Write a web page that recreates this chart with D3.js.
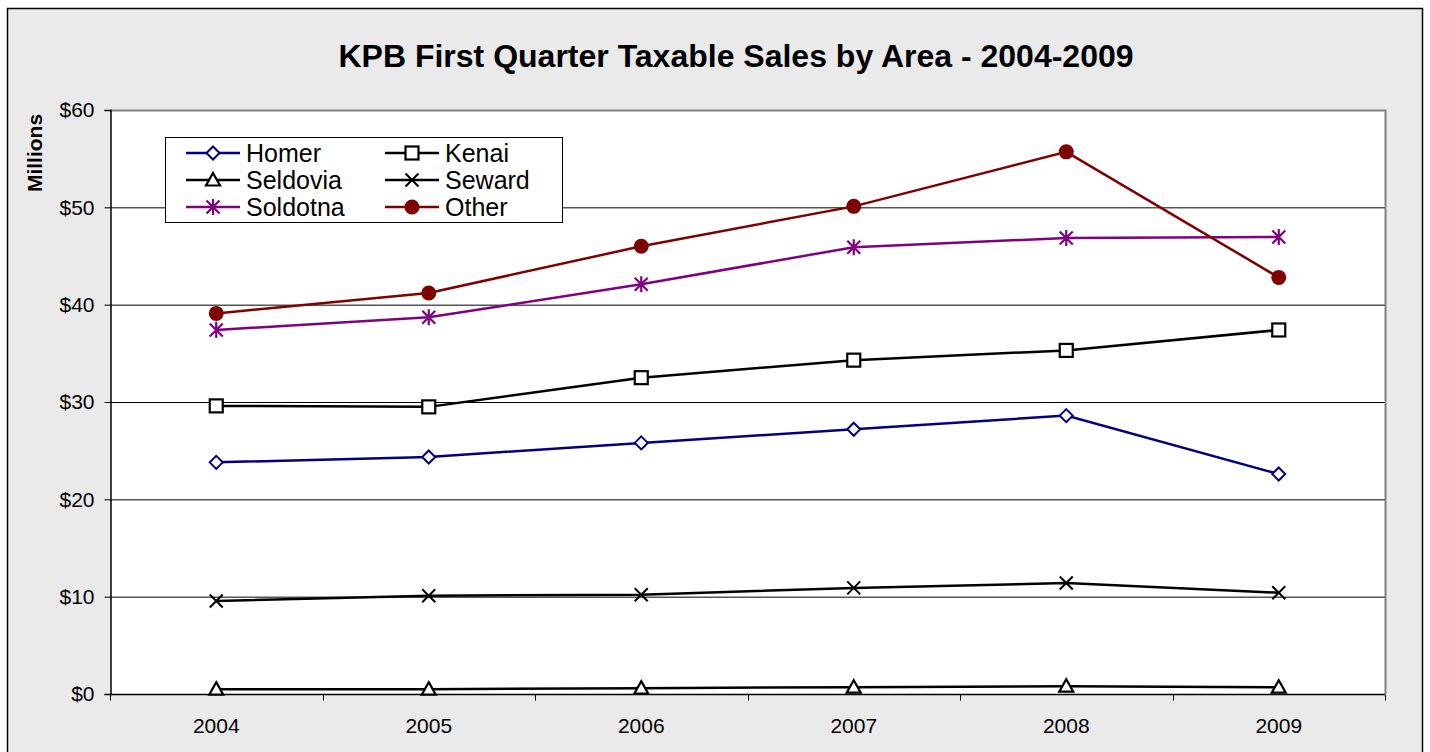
<!DOCTYPE html>
<html>
<head>
<meta charset="utf-8">
<script src="https://cdn.jsdelivr.net/npm/d3@7"></script>
<style>
body { margin: 0; background: #fff; }
text { font-family: "Liberation Sans", Arial, sans-serif; }
</style>
</head>
<body>
<script>
// data (millions of dollars)
var years = ["2004", "2005", "2006", "2007", "2008", "2009"];
var homer = [23.8, 24.35, 25.8, 27.2, 28.6, 22.6];
var kenai = [29.6, 29.5, 32.5, 34.3, 35.3, 37.4];
var seldovia = [0.5, 0.5, 0.6, 0.7, 0.8, 0.7];
var seward = [9.55, 10.1, 10.2, 10.9, 11.4, 10.4];
var soldotna = [37.4, 38.7, 42.1, 45.9, 46.85, 46.95];
var other = [39.1, 41.2, 46.0, 50.1, 55.7, 42.8];
var yTicks = [0, 10, 20, 30, 40, 50, 60];

var series = [
    {name: "Homer", values: homer, color: "#000080", marker: "diamond"},
    {name: "Kenai", values: kenai, color: "#000000", marker: "square"},
    {name: "Seldovia", values: seldovia, color: "#000000", marker: "triangle"},
    {name: "Seward", values: seward, color: "#000000", marker: "x"},
    {name: "Soldotna", values: soldotna, color: "#800080", marker: "star"},
    {name: "Other", values: other, color: "#800000", marker: "circle"}
];

var W = 1430, H = 752;
var pLeft = 110, pRight = 1385, pTop = 110, pBottom = 694;

var svg = d3.select("body").append("svg")
    .attr("width", W).attr("height", H);

// chart area background and border
svg.append("rect").attr("x", 7.5).attr("y", 8.5).attr("width", 1415).attr("height", 760)
    .attr("fill", "#eaeaea").attr("stroke", "#000").attr("stroke-width", 1.5);

var x = d3.scaleBand().domain(years).range([pLeft, pRight]);
var y = d3.scaleLinear().domain([0, 60]).range([pBottom, pTop]);

// plot area
svg.append("rect").attr("x", pLeft).attr("y", pTop)
    .attr("width", pRight - pLeft).attr("height", pBottom - pTop)
    .attr("fill", "#fff");

// gridlines
svg.append("g").selectAll("line")
    .data(yTicks.filter(function(d){ return d > 0 && d < 60; }))
    .enter().append("line")
    .attr("x1", pLeft).attr("x2", pRight)
    .attr("y1", function(d){ return y(d) + 0.5; })
    .attr("y2", function(d){ return y(d) + 0.5; })
    .attr("stroke", "#000").attr("stroke-width", 1);

// gray border top/right
svg.append("path")
    .attr("d", "M" + pLeft + "," + (pTop + 0.5) + "H" + (pRight + 0.5) + "V" + pBottom)
    .attr("fill", "none").attr("stroke", "#808080").attr("stroke-width", 2);

// y axis
var yAxis = svg.append("g").attr("transform", "translate(" + (pLeft + 0.5) + ",0)")
    .call(d3.axisLeft(y).tickValues(yTicks).tickSize(6).tickPadding(10)
        .tickFormat(function(d){ return "$" + d; }));
yAxis.select(".domain").attr("stroke", "#000").attr("stroke-width", 1.5);
yAxis.selectAll(".tick line").attr("stroke", "#000");
yAxis.selectAll("text").attr("font-size", 21).attr("fill", "#000")
    .style("font-family", "'Liberation Sans', Arial, sans-serif");

// x axis: ticks at band boundaries
var xg = svg.append("g").attr("transform", "translate(0," + (pBottom + 0.5) + ")");
xg.append("line").attr("x1", pLeft).attr("x2", pRight).attr("stroke", "#000").attr("stroke-width", 1.5);
var bounds = years.map(function(d){ return x(d); }).concat([x(years[years.length - 1]) + x.bandwidth()]);
xg.selectAll(".bt").data(bounds).enter().append("line")
    .attr("x1", function(d){ return Math.round(d) + 0.5; })
    .attr("x2", function(d){ return Math.round(d) + 0.5; })
    .attr("y1", 0).attr("y2", 6).attr("stroke", "#000");
xg.selectAll(".lbl").data(years).enter().append("text")
    .attr("x", function(d){ return x(d) + x.bandwidth() / 2; })
    .attr("y", 38).attr("text-anchor", "middle")
    .attr("font-size", 21).text(function(d){ return d; });

// axis title
svg.append("text").attr("transform", "translate(42,153) rotate(-90)")
    .attr("text-anchor", "middle").attr("font-size", 21).attr("font-weight", "bold")
    .text("Millions");

// chart title
svg.append("text").attr("x", 736).attr("y", 67).attr("text-anchor", "middle")
    .attr("font-size", 32).attr("font-weight", "bold")
    .text("KPB First Quarter Taxable Sales by Area - 2004-2009");

function drawMarker(g, type, color) {
    if (type === "diamond") {
        g.append("path").attr("d", "M0,-6.5L6.5,0L0,6.5L-6.5,0Z")
            .attr("fill", "#fff").attr("stroke", color).attr("stroke-width", 2);
    } else if (type === "square") {
        g.append("rect").attr("x", -6.5).attr("y", -6.5).attr("width", 13).attr("height", 13)
            .attr("fill", "#fff").attr("stroke", color).attr("stroke-width", 2.2);
    } else if (type === "triangle") {
        g.append("path").attr("d", "M0,-7L7,5.5L-7,5.5Z")
            .attr("fill", "#fff").attr("stroke", color).attr("stroke-width", 2.2);
    } else if (type === "x") {
        g.append("path").attr("d", "M-6.5,-6.5L6.5,6.5M-6.5,6.5L6.5,-6.5")
            .attr("stroke", color).attr("stroke-width", 2);
    } else if (type === "star") {
        g.append("path").attr("d", "M-6.5,-6.5L6.5,6.5M-6.5,6.5L6.5,-6.5M0,-8V8")
            .attr("stroke", color).attr("stroke-width", 2.2);
    } else if (type === "circle") {
        g.append("circle").attr("r", 7.5).attr("fill", color);
    }
}

var line = d3.line()
    .x(function(d, i){ return x(years[i]) + x.bandwidth() / 2; })
    .y(function(d){ return y(d); });

series.forEach(function(s) {
    svg.append("path").datum(s.values)
        .attr("d", line).attr("fill", "none")
        .attr("stroke", s.color).attr("stroke-width", 2.5);
    s.values.forEach(function(v, i) {
        var g = svg.append("g")
            .attr("transform", "translate(" + (x(years[i]) + x.bandwidth() / 2) + "," + y(v) + ")");
        drawMarker(g, s.marker, s.color);
    });
});

// legend
var lg = svg.append("g").attr("transform", "translate(165,137)");
lg.append("rect").attr("x", 0.5).attr("y", 0.5).attr("width", 397).attr("height", 85)
    .attr("fill", "#fff").attr("stroke", "#000").attr("stroke-width", 1);
series.forEach(function(s, i) {
    var col = i % 2, row = Math.floor(i / 2);
    var ox = col === 0 ? 21 : 220, oy = 16 + row * 27;
    var item = lg.append("g").attr("transform", "translate(" + ox + "," + oy + ")");
    item.append("line").attr("x1", 0).attr("x2", 54).attr("stroke", s.color).attr("stroke-width", 2.5);
    drawMarker(item.append("g").attr("transform", "translate(27,0)"), s.marker, s.color);
    item.append("text").attr("x", 60).attr("y", 8.5).attr("font-size", 25).text(s.name);
});
</script>
</body>
</html>
